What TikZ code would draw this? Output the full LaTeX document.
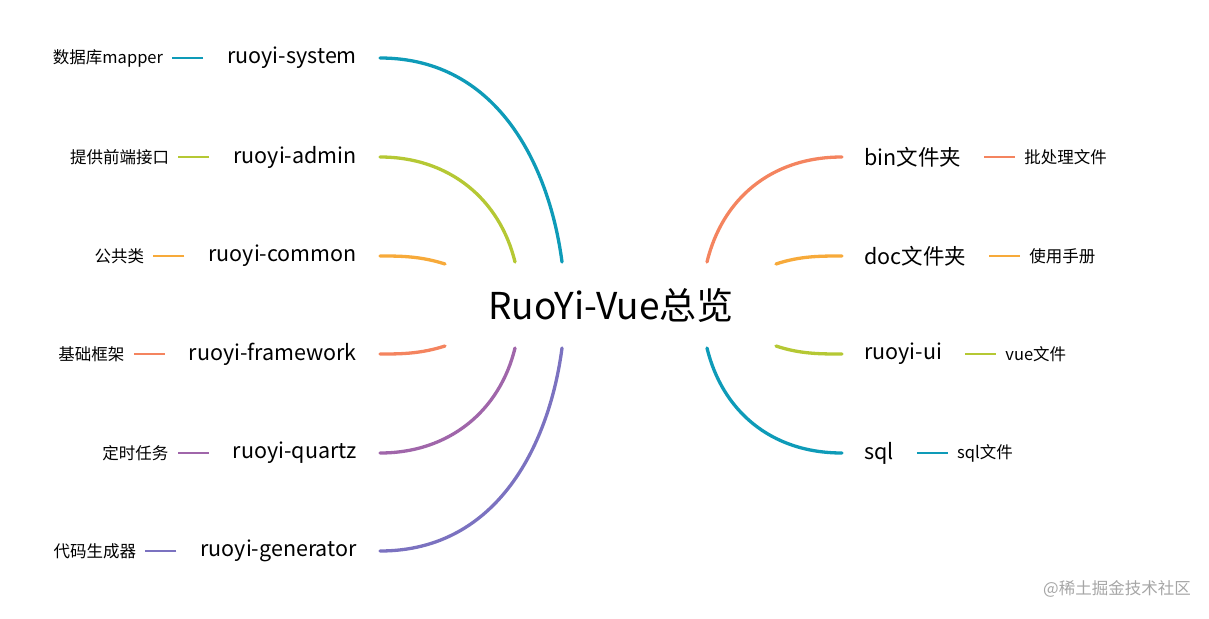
\documentclass[tikz,border=0pt]{standalone}
\usepackage{fontspec}
\setmainfont{Noto Sans CJK SC}
\usetikzlibrary{positioning}
\definecolor{cteal}{RGB}{14,155,184}
\definecolor{colive}{RGB}{181,200,52}
\definecolor{corange}{RGB}{247,170,58}
\definecolor{ccoral}{RGB}{244,132,95}
\definecolor{cpurple}{RGB}{160,102,170}
\definecolor{cindigo}{RGB}{123,114,192}
\tikzset{
  branch/.style={line width=3.3pt,line cap=round},
  twig/.style={line width=2.5pt},
  mainlbl/.style={font=\fontsize{21.5}{25}\selectfont,inner sep=0pt},
  sublbl/.style={font=\fontsize{16.5}{20}\selectfont,inner sep=0pt},
}
\begin{document}
\begin{tikzpicture}[x=1pt,y=-1pt]
\useasboundingbox (0,0) rectangle (1209,618);

%root
\node[font=\fontsize{37}{42}\selectfont,inner sep=0pt] (root) at (611,305) {RuoYi-Vue总览};

%left branches
\node[mainlbl,anchor=east] (system) at (357,58) {ruoyi-system};
\node[mainlbl,anchor=east] (admin) at (357,157) {ruoyi-admin};
\node[mainlbl,anchor=east] (common) at (357,256) {ruoyi-common};
\node[mainlbl,anchor=east] (framework) at (357,354) {ruoyi-framework};
\node[mainlbl,anchor=east] (quartz) at (357,453) {ruoyi-quartz};
\node[mainlbl,anchor=east] (generator) at (357,551) {ruoyi-generator};

\coordinate (e1) at (380,58);  \coordinate (s1) at (562,262);
\coordinate (e2) at (380,157); \coordinate (s2) at (515,262);
\coordinate (e3) at (380,256); \coordinate (s3) at (445,264);
\coordinate (e4) at (380,354); \coordinate (s4) at (445,346);
\coordinate (e5) at (380,453); \coordinate (s5) at (515,348);
\coordinate (e6) at (380,551); \coordinate (s6) at (562,348);

\draw[branch,cteal] (s1) .. controls (550,170) and (500,58) .. (e1);
\draw[branch,colive] (s2) .. controls (500,200) and (450,157) .. (e2);
\draw[branch,corange] (s3) .. controls (420,256) and (400,256) .. (e3);
\draw[branch,ccoral] (s4) .. controls (420,354) and (400,354) .. (e4);
\draw[branch,cpurple] (s5) .. controls (500,410) and (450,453) .. (e5);
\draw[branch,cindigo] (s6) .. controls (550,440) and (500,551) .. (e6);

%left twigs and notes
\foreach \n/\c/\t in {system/cteal/数据库mapper, admin/colive/提供前端接口,
    common/corange/公共类, framework/ccoral/基础框架,
    quartz/cpurple/定时任务, generator/cindigo/代码生成器}{
  \draw[twig,\c] ([xshift=-24pt]\n.west) coordinate (a\n) -- ++(-31,0) coordinate (b\n);
  \node[sublbl,anchor=east,left=9pt of b\n] (n\n) {\t};
}

%right branches
\node[mainlbl,anchor=west] (bin) at (864,157) {bin文件夹};
\node[mainlbl,anchor=west] (doc) at (864,256) {doc文件夹};
\node[mainlbl,anchor=west] (ui) at (864,354) {ruoyi-ui};
\node[mainlbl,anchor=west] (sql) at (864,453) {sql};

\coordinate (f1) at (842,157); \coordinate (t1) at (707,262);
\coordinate (f2) at (842,256); \coordinate (t2) at (776,264);
\coordinate (f3) at (842,354); \coordinate (t3) at (776,346);
\coordinate (f4) at (842,453); \coordinate (t4) at (707,348);

\draw[branch,ccoral] (t1) .. controls (722,200) and (770,157) .. (f1);
\draw[branch,corange] (t2) .. controls (800,256) and (820,256) .. (f2);
\draw[branch,colive] (t3) .. controls (800,354) and (820,354) .. (f3);
\draw[branch,cteal] (t4) .. controls (722,410) and (770,453) .. (f4);

\foreach \n/\c/\t in {bin/ccoral/批处理文件, doc/corange/使用手册,
    ui/colive/vue文件, sql/cteal/sql文件}{
  \draw[twig,\c] ([xshift=23pt]\n.east) coordinate (a\n) -- ++(31,0) coordinate (b\n);
  \node[sublbl,anchor=west,right=9pt of b\n] (n\n) {\t};
}

%watermark
\node[sublbl,text=black!35,anchor=east] (mark) at (1191,589) {@稀土掘金技术社区};
\end{tikzpicture}
\end{document}
